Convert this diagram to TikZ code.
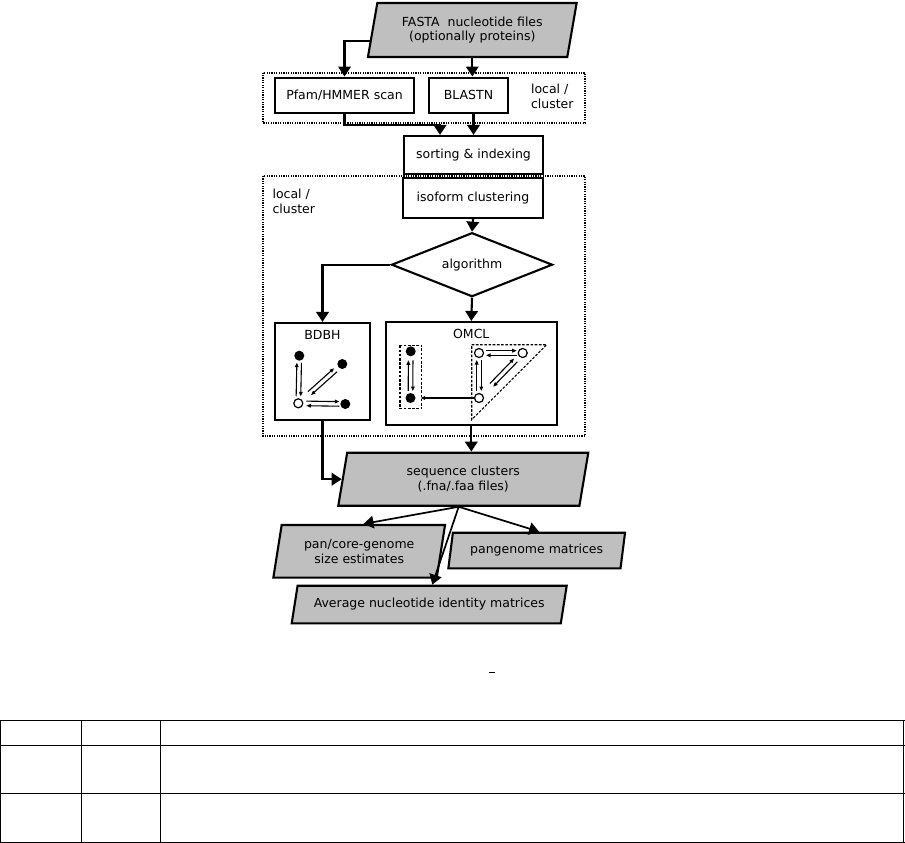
\documentclass[tikz,border=0pt]{standalone}
\usepackage{fontspec}
\setmainfont{DejaVu Sans}
\usetikzlibrary{arrows.meta,positioning,shapes.geometric,calc}
\newcommand{\dblarr}[4]{%
  \draw[tarr,shorten <=#3,shorten >=#4] ($(#1)!2.3pt!90:(#2)$) -- ($(#2)!2.3pt!-90:(#1)$);
  \draw[tarr,shorten <=#4,shorten >=#3] ($(#2)!2.3pt!90:(#1)$) -- ($(#1)!2.3pt!-90:(#2)$);}

\begin{document}
\begin{tikzpicture}[x=1pt,y=-1pt,
   font=\fontsize{12.5}{14.5}\selectfont,
   line width=2.1pt,
   box/.style={draw,fill=white,align=center,inner sep=0pt},
   io/.style 2 args={trapezium,trapezium stretches body,trapezium left angle=#1,
     trapezium right angle=#2,draw,fill=gray!50,align=center,inner sep=0pt},
   decide/.style={diamond,draw,fill=white,aspect=2.5,inner sep=0pt},
   note/.style={align=left,anchor=west,inner sep=0pt},
   grp/.style={draw,line width=1.9pt,dash pattern=on 1.2pt off 1.2pt},
   grpdash/.style={draw,line width=1.1pt,dash pattern=on 2.6pt off 1.6pt},
   dotf/.style={circle,fill=black,inner sep=0pt,minimum size=10pt},
   doth/.style={circle,draw,line width=1.2pt,fill=white,inner sep=0pt,minimum size=9pt},
   tarr/.style={-{Triangle[length=4.5pt,width=3.6pt]},line width=1.1pt},
   rule/.style={line width=1pt},
   >={Triangle[length=10pt,width=12.5pt]}]
 \useasboundingbox (0,0) rectangle (905,843);
 \draw[grp] (263,72.7) rectangle (585,122.7);
 \draw[grp] (263,176) rectangle (585,436);
 \node[io={70.6}{109.4},minimum width=208.7pt,minimum height=54pt] (fasta) at (472.3,30) {FASTA~ nucleotide files\\(optionally proteins)};
 \node[box,minimum width=139pt,minimum height=35pt] (pfam) at (344.5,95.1) {Pfam/HMMER scan};
 \node[box,minimum width=79pt,minimum height=35pt] (blastn) at (468.5,95.1) {BLASTN};
 \node[note] (loc1) at (530,96.5) {local /\\cluster};
 \node[box,minimum width=139pt,minimum height=38pt] (sort) at (473.5,155) {sorting \& indexing};
 \node[box,minimum width=140pt,minimum height=40pt] (iso) at (473,198) {isoform clustering};
 \node[note] (loc2) at (271.5,201.5) {local /\\cluster};
 \node[decide,minimum width=161pt,minimum height=64pt] (algo) at (472,264.7) {algorithm};
 \node[box,minimum width=95pt,minimum height=97pt,label={[anchor=north,inner sep=7pt]north:BDBH}] (bdbh) at (322.5,371.5) {};
 \node[box,minimum width=170.7pt,minimum height=103pt,label={[anchor=north,inner sep=7pt]north:OMCL}] (omcl) at (471.3,373.5) {};
 \node[io={70.9}{109.1},minimum width=250pt,minimum height=53pt] (seq) at (463.3,479.2) {sequence clusters\\(.fna/.faa files)};
 \node[io={70.7}{109.3},minimum width=171.7pt,minimum height=52.7pt] (pancore) at (359.2,551.3) {pan/core-genome\\size estimates};
 \node[io={69.4}{110.6},minimum width=176.7pt,minimum height=35.6pt] (pangen) at (536.7,550.5) {pangenome matrices};
 \node[io={64}{116},minimum width=275pt,minimum height=37.6pt] (ani) at (429.2,604.5) {Average nucleotide identity matrices};
 \draw[->] (fasta.186) -| (pfam.north);
 \draw[->] (fasta.south) -- (fasta.south |- blastn.north);
 \draw[->] (pfam.south) -- ++(0,11.5) -| ([xshift=-33.5pt]sort.north);
 \draw[->] (sort.north |- blastn.south) -- (sort.north);
 \draw[->] (iso.south) -- (algo.north);
 \draw[->] (algo.west) -| (bdbh.north);
 \draw[->] (algo.south) -- (omcl.north);
 \draw[->] (omcl.south) -- (omcl.south |- seq.north);
 \draw[->] (bdbh.south) |- (seq.west);
 \draw[->,line width=1.7pt] (seq.bottom side) -- (pancore.top side);
 \draw[->,line width=1.7pt] (seq.bottom side) -- (pangen.top side);
 \draw[->,line width=1.7pt] (seq.bottom side) -- (ani.top side);
 \node[dotf] (b1) at (299.3,355.7) {};
 \node[dotf] (b2) at (342.3,364) {};
 \node[doth] (b0) at (298.3,403.3) {};
 \node[dotf] (b3) at (345.3,404) {};
 \dblarr{b0}{b1}{7pt}{7pt}
 \dblarr{b0}{b3}{8pt}{6pt}
 \dblarr{b0}{b2}{15pt}{9pt}
 \draw[grpdash] (400,345.3) rectangle (421.7,408.7);
 \draw[grpdash] (471.7,344.7) -- (546.7,344.7) -- (471.7,419.7) -- cycle;
 \node[dotf] (o1) at (410.7,351.3) {};
 \node[dotf] (o2) at (410.5,398) {};
 \node[doth] (h1) at (479,353) {};
 \node[doth] (h2) at (522.7,353) {};
 \node[doth] (h3) at (479,398) {};
 \dblarr{o2}{o1}{7pt}{9pt}
 \dblarr{h1}{h2}{7pt}{6pt}
 \dblarr{h3}{h1}{7pt}{7pt}
 \dblarr{h3}{h2}{18pt}{10pt}
 \draw[tarr,shorten <=0pt,shorten >=4pt] (h3) -- (o2);
 \foreach \y in {720.5,745,793,842} \draw[rule] (0,\y) -- (905,\y);
 \foreach \x in {0.5,81,160,903.5} \draw[rule] (\x,720.5) -- (\x,842);
 \draw[rule] (489,672.5) -- (495,672.5);
\end{tikzpicture}
\end{document}
